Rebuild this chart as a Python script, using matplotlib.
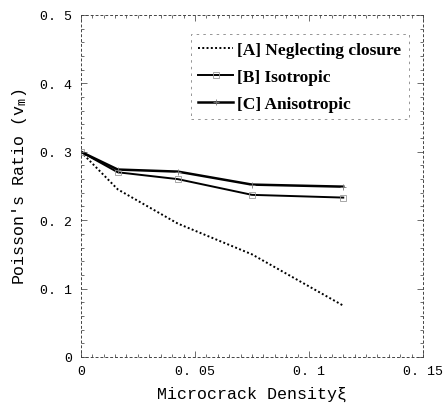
import matplotlib.pyplot as plt
from matplotlib.ticker import MultipleLocator

density = [0.0, 0.0162, 0.0425, 0.075, 0.115]
neglect_closure = [0.300, 0.245, 0.195, 0.150, 0.075]
isotropic = [0.300, 0.270, 0.260, 0.237, 0.233]
anisotropic = [0.300, 0.274, 0.271, 0.252, 0.249]

x_ticks = [0, 0.05, 0.1, 0.15]
x_tick_labels = ["0", "0. 05", "0. 1", "0. 15"]
y_ticks = [0, 0.1, 0.2, 0.3, 0.4, 0.5]
y_tick_labels = ["0", "0. 1", "0. 2", "0. 3", "0. 4", "0. 5"]

mono = ["Liberation Mono", "DejaVu Sans Mono"]

fig = plt.figure(figsize=(4.44, 4.10), dpi=100)
ax = fig.add_axes([0.182, 0.127, 0.771, 0.834])

ax.plot(density, neglect_closure, color="black", linestyle=(0, (1, 1.2)), linewidth=1.4,
        label="[A] Neglecting closure")
ax.plot(density, isotropic, color="black", linewidth=1.4, marker="s", markersize=4,
        markerfacecolor="none", markeredgecolor="#999999", markeredgewidth=0.6,
        label="[B] Isotropic")
ax.plot(density, anisotropic, color="black", linewidth=1.8, marker="+", markersize=4,
        markeredgecolor="#777777", markeredgewidth=0.6, label="[C] Anisotropic")

ax.set_xlim(0, 0.15)
ax.set_ylim(0, 0.5)
ax.set_xticks(x_ticks)
ax.set_xticklabels(x_tick_labels, family=mono, fontsize=9.5)
ax.set_yticks(y_ticks)
ax.set_yticklabels(y_tick_labels, family=mono, fontsize=9.5)
ax.xaxis.set_minor_locator(MultipleLocator(0.005))
ax.yaxis.set_minor_locator(MultipleLocator(0.02))
ax.tick_params(which="both", direction="in", top=True, right=True, width=0.6, color="#555555")
ax.tick_params(which="major", length=4, pad=6)
ax.tick_params(which="minor", length=2.5)

for spine in ax.spines.values():
    spine.set_linestyle((0, (2, 3)))
    spine.set_linewidth(0.7)
    spine.set_color("#444444")

ax.set_xlabel("Microcrack Density\u03be", family=mono, fontsize=12, labelpad=6)
ax.set_ylabel("Poisson's Ratio ($\\mathregular{v_m}$)", family=mono, fontsize=12, labelpad=8)

leg = ax.legend(loc="upper right", bbox_to_anchor=(0.975, 0.96), frameon=True, fancybox=False,
                prop={"family": "Liberation Serif", "weight": "bold", "size": 12.5},
                handlelength=2.0, handletextpad=0.25, labelspacing=0.62, borderpad=0.45,
                borderaxespad=0.3)
frame = leg.get_frame()
frame.set_linestyle((0, (3, 5)))
frame.set_linewidth(0.6)
frame.set_edgecolor("#666666")

fig.savefig("out.png", dpi=100)
